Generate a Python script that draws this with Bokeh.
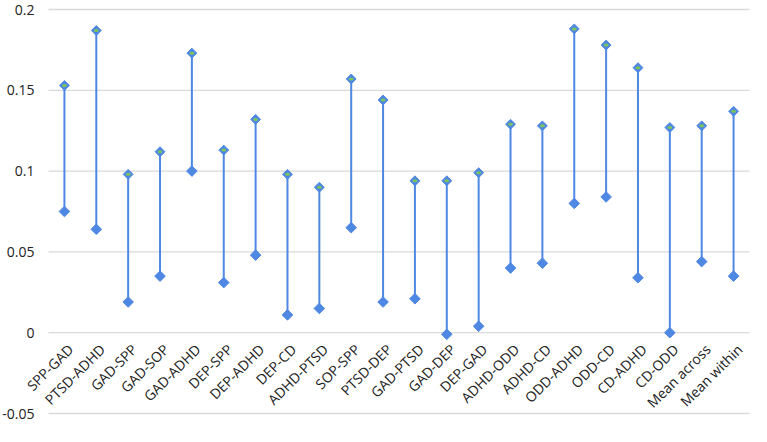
import math
from bokeh.plotting import figure
from bokeh.models import ColumnDataSource, Range1d
from bokeh.core.properties import value
from bokeh.embed import file_html
from bokeh.resources import INLINE

categories = ["SPP-GAD", "PTSD-ADHD", "GAD-SPP", "GAD-SOP", "GAD-ADHD", "DEP-SPP",
              "DEP-ADHD", "DEP-CD", "ADHD-PTSD", "SOP-SPP", "PTSD-DEP", "GAD-PTSD",
              "GAD-DEP", "DEP-GAD", "ADHD-ODD", "ADHD-CD", "ODD-ADHD", "ODD-CD",
              "CD-ADHD", "CD-ODD", "Mean across", "Mean within"]
high = [0.153, 0.187, 0.098, 0.112, 0.173, 0.113, 0.132, 0.098, 0.090, 0.157, 0.144,
        0.094, 0.094, 0.099, 0.129, 0.128, 0.188, 0.178, 0.164, 0.127, 0.128, 0.137]
low = [0.075, 0.064, 0.019, 0.035, 0.100, 0.031, 0.048, 0.011, 0.015, 0.065, 0.019,
       0.021, -0.001, 0.004, 0.040, 0.043, 0.080, 0.084, 0.034, 0.000, 0.044, 0.035]
y_ticks = [-0.05, 0, 0.05, 0.1, 0.15, 0.2]
y_tick_labels = ["-0.05", "0", "0.05", "0.1", "0.15", "0.2"]

n = len(categories)
xs = list(range(1, n + 1))
src = ColumnDataSource(dict(x=xs, cat=categories, high=high, low=low, base=[0] * n))

W, H = 751, 426
left_px, right_px = 48, 749
unit_x = (right_px - left_px) / n
x0 = 0.5 - left_px / unit_x
x1 = n + 0.5 + (W - right_px) / unit_x
top_px, bot_px = 9, 413
unit_y = (bot_px - top_px) / (y_ticks[-1] - y_ticks[0])
y1 = y_ticks[-1] + top_px / unit_y
y0 = y_ticks[0] - (H - bot_px) / unit_y

p = figure(width=W, height=H, output_backend="svg", toolbar_location=None,
           x_range=Range1d(x0, x1), y_range=Range1d(y0, y1),
           min_border=0, min_border_left=0, min_border_right=0,
           min_border_top=0, min_border_bottom=0)
p.outline_line_color = None
p.background_fill_color = "white"
p.border_fill_color = "white"
p.axis.visible = False
p.grid.visible = False

# gridlines across the plot area, with their value labels
gsrc = ColumnDataSource(dict(y=y_ticks, lab=y_tick_labels,
                             xa=[0.5] * len(y_ticks), xb=[n + 0.5] * len(y_ticks)))
p.segment(x0="xa", y0="y", x1="xb", y1="y", source=gsrc,
          line_color="#D9D9D9", line_width=1.3)
p.text(x="xa", y="y", text="lab", source=gsrc, text_align="right",
       text_baseline="middle", x_offset=-14,
       text_font=value("Open Sans"), text_font_size="14px", text_color="#222222")

blue = "#4F88E3"
p.segment(x0="x", y0="low", x1="x", y1="high", source=src, line_color=blue, line_width=2)
p.scatter(x="x", y="low", source=src, marker="square", size=7.5, angle=math.pi / 4,
          fill_color=blue, line_color=blue)
p.scatter(x="x", y="high", source=src, marker="square", size=7, angle=math.pi / 4,
          fill_color=blue, line_color=blue)
p.ellipse(x="x", y="high", width=5, height=3, width_units="screen", height_units="screen",
          source=src, fill_color="#7CC35B", line_color=None)

p.text(x="x", y="base", text="cat", source=src, angle=math.pi / 4,
       text_align="right", text_baseline="middle", x_offset=6, y_offset=14,
       text_font=value("Open Sans"), text_font_size="14px", text_color="#222222")

open("out.html", "w").write(file_html(p, INLINE))
